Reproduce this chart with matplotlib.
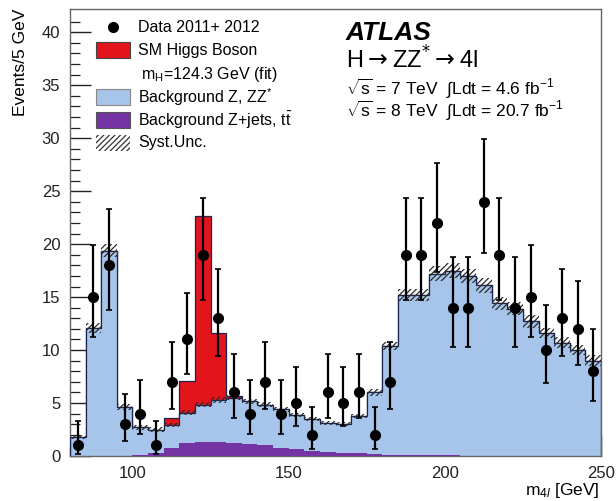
import numpy as np
import matplotlib
matplotlib.use("Agg")
from matplotlib import pyplot as plt
from matplotlib.patches import Rectangle
from matplotlib.lines import Line2D

plt.rcParams['font.family'] = ['Liberation Sans', 'DejaVu Sans']
plt.rcParams['mathtext.fontset'] = 'custom'
plt.rcParams['mathtext.rm'] = 'Liberation Sans'
plt.rcParams['mathtext.it'] = 'Liberation Sans:italic'
plt.rcParams['mathtext.bf'] = 'Liberation Sans:bold'
plt.rcParams['hatch.linewidth'] = 0.9

# 5 GeV bins from 80 to 250 GeV
edges = np.arange(80, 255, 5)
centers = edges[:-1] + 2.5

# data counts and asymmetric (Poisson) errors
data = [1, 15, 18, 3, 4, 1, 7, 11, 19, 13, 6, 4, 7, 4, 5, 2, 6,
        5, 6, 2, 7, 19, 19, 22, 14, 14, 24, 19, 14, 15, 10, 13, 12, 8]
err_up = [2.3, 4.9, 5.3, 2.9, 3.2, 2.3, 3.8, 4.4, 5.4, 4.7, 3.6, 3.2, 3.8, 3.2, 3.4, 2.6, 3.6,
          3.4, 3.6, 2.6, 3.8, 5.4, 5.4, 5.7, 4.8, 4.8, 5.9, 5.4, 4.8, 4.9, 4.3, 4.7, 4.5, 4.0]
err_down = [0.8, 3.8, 4.2, 1.6, 1.9, 0.8, 2.6, 3.3, 4.3, 3.6, 2.4, 1.9, 2.6, 1.9, 2.2, 1.3, 2.4,
            2.2, 2.4, 1.3, 2.6, 4.3, 4.3, 4.6, 3.7, 3.7, 4.8, 4.3, 3.7, 3.8, 3.1, 3.6, 3.4, 2.8]

# total background (Z, ZZ* stacked on Z+jets, ttbar)
bkg_total = [1.8, 12.1, 19.4, 4.6, 2.7, 2.5, 2.9, 4.1, 4.85, 5.3, 5.5, 5.15, 4.85, 4.4, 3.9, 3.5, 3.1,
             3.0, 3.8, 6.0, 10.4, 15.2, 15.2, 17.2, 17.5, 17.0, 16.1, 14.4, 13.9, 12.7, 11.6, 10.7, 10.0, 9.0]
# Z+jets, ttbar
bkg_zjets = [0.0, 0.0, 0.0, 0.0, 0.1, 0.3, 0.8, 1.2, 1.35, 1.35, 1.25, 1.15, 1.0, 0.8, 0.65, 0.5, 0.4,
             0.3, 0.25, 0.15, 0.1, 0.08, 0.06, 0.05, 0.05, 0.04, 0.04, 0.03, 0.03, 0.03, 0.02, 0.02, 0.02, 0.02]
# SM Higgs, mH = 124.3 GeV
higgs = [0, 0, 0, 0, 0, 0, 0.7, 3.0, 17.85, 6.3, 0.15, 0, 0, 0, 0, 0, 0,
         0, 0, 0, 0, 0, 0, 0, 0, 0, 0, 0, 0, 0, 0, 0, 0, 0]
# systematic uncertainty on the background
syst = [0.15, 0.5, 0.6, 0.3, 0.2, 0.2, 0.2, 0.25, 0.25, 0.25, 0.25, 0.25, 0.25, 0.25, 0.2, 0.2, 0.2,
        0.2, 0.2, 0.3, 0.4, 0.6, 0.6, 0.7, 0.7, 0.7, 0.7, 0.6, 0.6, 0.6, 0.5, 0.5, 0.5, 0.5]

c_blue = '#a7c5ea'
c_red = '#e3141c'
c_purple = '#7434a4'
c_line = '#1c2550'

bkg_total = np.array(bkg_total)
higgs = np.array(higgs)
syst = np.array(syst)

W, H = 616, 501
fig = plt.figure(figsize=(W / 100, H / 100), dpi=100)
ax = fig.add_axes([70 / W, 45 / H, 531 / W, 447 / H])


def fx(px):
    return px / W


def fy(py):
    return 1 - py / H


# stacked histograms
ax.stairs(bkg_total + higgs, edges, baseline=bkg_total, fill=True, color=c_red, zorder=1)
ax.stairs(bkg_total + higgs, edges, color=c_line, lw=0.9, zorder=2)
ax.stairs(bkg_total, edges, fill=True, color=c_blue, zorder=2)
ax.stairs(bkg_zjets, edges, fill=True, color=c_purple, zorder=3)
ax.stairs(bkg_total, edges, color=c_line, lw=0.9, zorder=4)

# syst band
ax.stairs(bkg_total + syst, edges, baseline=bkg_total - syst, fill=True, facecolor='none',
          edgecolor='#2a2a2a', hatch='//////', lw=0, zorder=5)

# data
ax.errorbar(centers, data, yerr=[err_down, err_up], fmt='o', color='black', ms=7,
            elinewidth=1.6, capsize=2, capthick=1.2, zorder=6)

ax.set_xlim(80, 250)
ax.set_ylim(0, 42.2)
ax.set_xticks([100, 150, 200, 250])
ax.set_xticks(np.arange(80, 251, 10), minor=True)
ax.set_yticks(np.arange(0, 41, 5))
ax.set_yticks(np.arange(0, 42, 1), minor=True)
ax.tick_params(which='both', direction='in', labelsize=12, colors='#222')
ax.tick_params(which='major', length=15, width=1.0, pad=7)
ax.tick_params(which='minor', length=7, width=0.9)
for s in ax.spines.values():
    s.set_color('#666')
    s.set_linewidth(1.0)

ax.set_ylabel('Events/5 GeV', fontsize=12.5, loc='top', labelpad=10)
fig.text(fx(600), fy(490), 'm$_{4l}$ [GeV]', fontsize=12.5, ha='right', va='center')

# legend, drawn by hand so the rows keep the reference spacing
leg_fs = 11.5
fig.add_artist(Line2D([fx(113)], [fy(27)], marker='o', color='black', ls='none', ms=7))
fig.text(fx(138), fy(27), 'Data 2011+ 2012', fontsize=leg_fs, va='center')
boxes = [(50, c_red, '#444', None, 'SM Higgs Boson'),
         (97, c_blue, '#888', None, 'Background Z, ZZ$^{*}$'),
         (120, c_purple, '#555', None, 'Background Z+jets, t$\\bar{\\mathrm{t}}$'),
         (143, 'white', '#333', '//////', 'Syst.Unc.')]
for yc, fc, ec, hatch, lab in boxes:
    fig.add_artist(Rectangle((fx(96), fy(yc + 8)), fx(130) - fx(96), fy(yc - 8) - fy(yc + 8),
                             transform=fig.transFigure, facecolor=fc, edgecolor=ec,
                             hatch=hatch, lw=0 if hatch else 0.8))
    fig.text(fx(138), fy(yc), lab, fontsize=leg_fs, va='center')
fig.text(fx(141), fy(74), 'm$_\\mathrm{H}$=124.3 GeV (fit)', fontsize=leg_fs, va='center')

# ATLAS label
fig.text(fx(346), fy(33), 'ATLAS', fontsize=19, fontweight='bold', fontstyle='italic', va='center')
fig.text(fx(346), fy(60), 'H$\\rightarrow$ZZ$^{*}$$\\rightarrow$4l', fontsize=17, va='center',
         math_fontfamily='dejavusans')
fig.text(fx(346), fy(89), '$\\sqrt{\\mathrm{s}}$ = 7 TeV  $\\int$Ldt = 4.6 fb$^{-1}$', fontsize=12.5, va='center')
fig.text(fx(346), fy(111), '$\\sqrt{\\mathrm{s}}$ = 8 TeV  $\\int$Ldt = 20.7 fb$^{-1}$', fontsize=12.5, va='center')

fig.savefig('out.png', dpi=100)
